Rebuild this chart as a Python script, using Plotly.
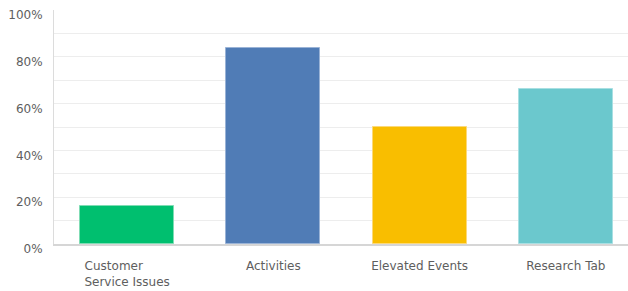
import plotly.graph_objects as go

categories = ["Customer" + "\u00a0" * 7 + "<br>Service Issues", "Activities", "Elevated Events", "Research Tab"]
values = [16.2, 83.6, 49.9, 66.4]
colors = ["#00bf6f", "#507cb6", "#f9be00", "#6bc8cd"]
edge_colors = ["#7fdcb4", "#9ab3d6", "#fbd97a", "#a8dfe2"]
y_ticks = [0, 20, 40, 60, 80, 100]
y_tick_labels = ["0%", "20%", "40%", "60%", "80%", "100%"]

fig = go.Figure(go.Bar(
    x=categories, y=values,
    marker=dict(color=colors, line=dict(color=edge_colors, width=1)),
    width=0.644,
))

font = "DejaVu Sans, sans-serif"
fig.update_layout(
    width=628, height=291,
    margin=dict(l=54, r=0, t=10, b=47, autoexpand=False),
    plot_bgcolor="white", paper_bgcolor="white",
    showlegend=False,
    font=dict(family=font, size=12, color="#5e5e5e"),
    bargap=0,
)
fig.update_xaxes(
    range=[-0.5, 3.425], automargin=False,
    showline=True, linecolor="#d6d6d6", linewidth=2,
    showgrid=False, ticks="", ticklabelstandoff=10,
    tickfont=dict(size=12, color="#5e5e5e"),
)
fig.update_yaxes(
    range=[0, 100], automargin=False,
    tickvals=y_ticks, ticktext=y_tick_labels,
    showline=True, linecolor="#dcdcdc", linewidth=1,
    showgrid=True, gridcolor="#ededed", gridwidth=1,
    minor=dict(dtick=10, showgrid=True, gridcolor="#ededed", gridwidth=1),
    zeroline=False, ticks="", ticklabelshift=5, ticklabelstandoff=8,
    ticklabeloverflow="allow",
    tickfont=dict(size=12, color="#5e5e5e"),
)

fig.write_html("out.html", config={"displayModeBar": False},
               post_script="document.body.style.margin='0';document.body.style.overflow='hidden';")
